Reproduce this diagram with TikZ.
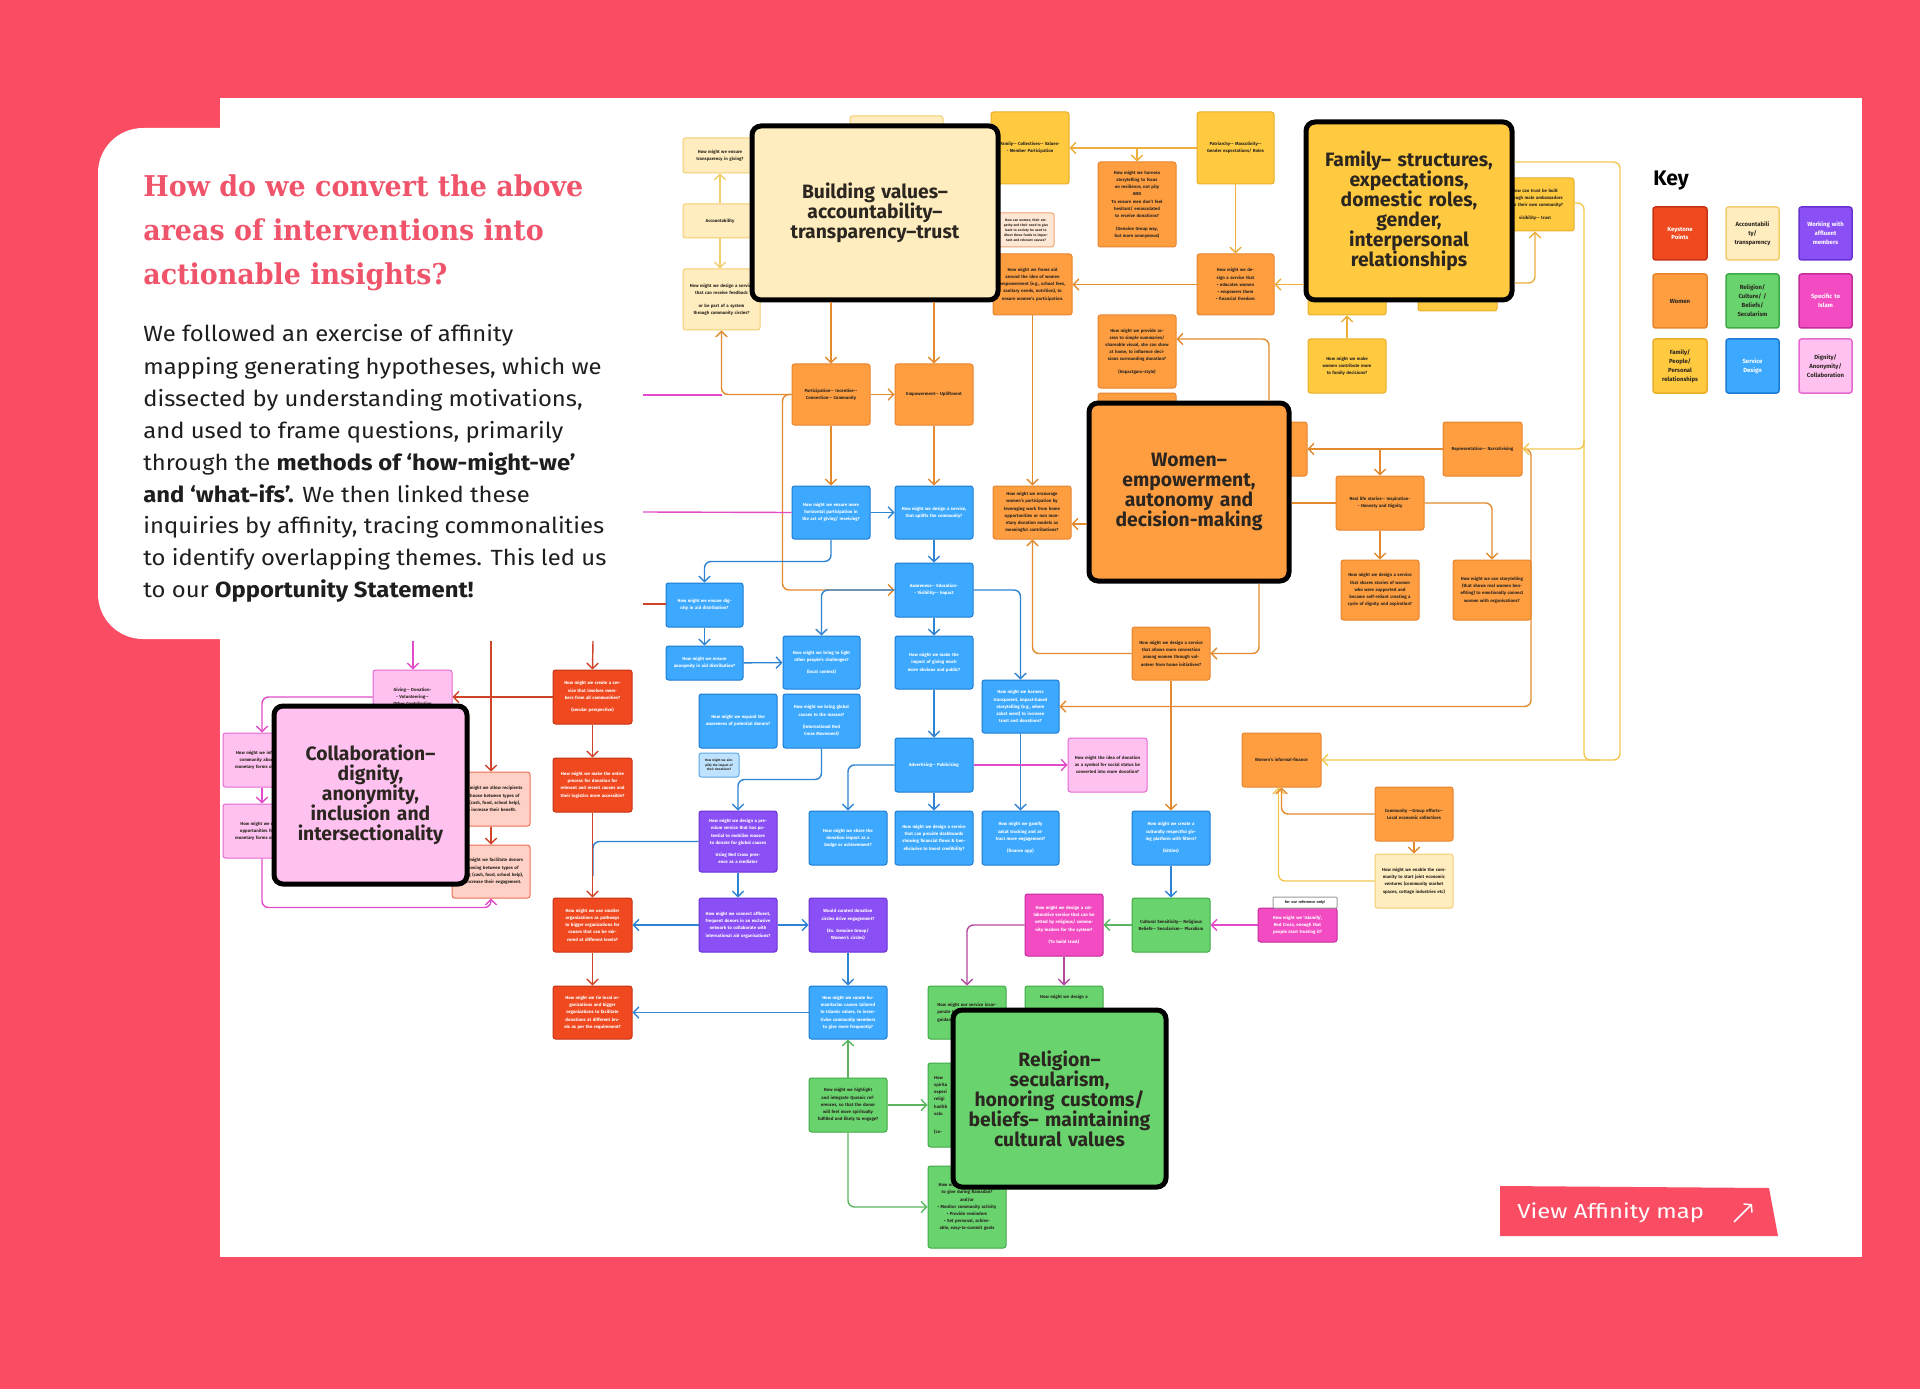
\documentclass[tikz,border=0pt]{standalone}
\usepackage{fontspec}
\usepackage{graphicx}
\setmainfont{Fira Sans}
\newfontfamily\headfont{DejaVu Serif}
\usetikzlibrary{arrows.meta,calc}

\definecolor{bgred}{HTML}{FA4C62}
\definecolor{headc}{HTML}{F0546B}
\definecolor{bodyc}{HTML}{1E1E1E}
\definecolor{creamF}{HTML}{FFEDBF}\definecolor{creamD}{HTML}{F3CD70}
\definecolor{yelF}{HTML}{FFC940}\definecolor{yelD}{HTML}{E9AE2A}
\definecolor{oraF}{HTML}{FF9E41}\definecolor{oraD}{HTML}{E7842E}
\definecolor{redF}{HTML}{F0491F}\definecolor{redD}{HTML}{C43414}
\definecolor{bluF}{HTML}{3CA9FF}\definecolor{bluD}{HTML}{1C7BD2}
\definecolor{lbluF}{HTML}{BFE3FF}\definecolor{lbluD}{HTML}{5AA7E6}
\definecolor{purF}{HTML}{8B4FF6}\definecolor{purD}{HTML}{6831D2}
\definecolor{greF}{HTML}{69D46E}\definecolor{greD}{HTML}{3EA947}
\definecolor{magF}{HTML}{F34CC2}\definecolor{magD}{HTML}{C22C9B}
\definecolor{pinkF}{HTML}{FFC2F0}\definecolor{pinkD}{HTML}{E468CF}
\definecolor{salF}{HTML}{FFD1C6}\definecolor{salD}{HTML}{EE6D55}
\definecolor{peaF}{HTML}{FFE7D6}\definecolor{peaD}{HTML}{F2A46E}
\definecolor{dtext}{HTML}{2B2620}
\definecolor{lOra}{HTML}{E3892E}
\definecolor{lYel}{HTML}{F2C850}
\definecolor{lFam}{HTML}{EDAE3C}
\definecolor{lCre}{HTML}{F2CE6C}
\definecolor{lBlu}{HTML}{2F83D3}
\definecolor{lMag}{HTML}{E24CC8}
\definecolor{lMagD}{HTML}{B4489E}
\definecolor{lRed}{HTML}{CF4428}
\definecolor{lGre}{HTML}{5CB660}

\newcommand\cardfont{\fontsize{2.5}{4.1}\selectfont\bfseries}
\newcommand\bigfont{\fontsize{11}{11.4}\selectfont\bfseries}
\newcommand\keyfont{\fontsize{3.4}{5.1}\selectfont\bfseries}
\newcommand\bodyfont{\fontsize{12.5}{14}\selectfont}
\newcommand\hh{-{}-}
\newcommand\bodytext[1]{\scalebox{1.085}[1]{#1}}
\newcommand\twf{0.84}

\newcommand\mkcard[7]{%
 \pgfmathsetmacro\cdW{(#5-#3)*0.2}%
 \pgfmathsetmacro\cdH{(#6-#4)*0.2}%
 \pgfmathsetmacro\cdT{(#5-#3)*0.2*\twf}%
 \node[#1,minimum width=\cdW mm,minimum height=\cdH mm,text width=\cdT mm] (#2) at ({(#3+#5)/2},{(#4+#6)/2}) {#7};}

\tikzset{
 card/.style={draw, line width=0.2mm, rounded corners=0.5mm, align=center, inner sep=0pt, font=\cardfont},
 cre/.style={card, fill=creamF, draw=creamD, text=dtext},
 yel/.style={card, fill=yelF, draw=yelD, text=dtext},
 ora/.style={card, fill=oraF, draw=oraD, text=dtext},
 redc/.style={card, fill=redF, draw=redD, text=white},
 blu/.style={card, fill=bluF, draw=bluD, text=white},
 lblu/.style={card, fill=lbluF, draw=lbluD, text=dtext},
 pur/.style={card, fill=purF, draw=purD, text=white},
 gre/.style={card, fill=greF, draw=greD, text=dtext},
 mag/.style={card, fill=magF, draw=magD, text=white},
 pnk/.style={card, fill=pinkF, draw=pinkD, text=dtext},
 sal/.style={card, fill=salF, draw=salD, text=dtext},
 pea/.style={card, fill=peaF, draw=peaD, text=dtext},
 big/.style={draw=black, line width=1mm, rounded corners=1.8mm, align=center, inner sep=0pt, font=\bigfont, text=dtext},
 keyc/.style={card, font=\keyfont, line width=0.3mm},
 conn/.style={line width=0.28mm, rounded corners=1.3mm},
 arr/.style={-{Straight Barb[length=1.1mm,width=2.3mm,line width=0.28mm]}},
 bodyline/.style={anchor=base west, inner sep=0pt, text=bodyc, font=\bodyfont},
 headline/.style={anchor=base west, inner sep=0pt, text=headc, font=\headfont\bfseries\fontsize{16.3}{16.3}\selectfont},
}

\begin{document}
\begin{tikzpicture}[x=0.2mm,y=-0.2mm]
\useasboundingbox (0,0) rectangle (1920,1389);
\fill[bgred] (0,0) rectangle (1920,1389);
\fill[white] (220,98) rectangle (1862,1257);
\fill[white, rounded corners=9mm] (98,128) rectangle (320,639);

\coordinate (m1) at (643,395);
\coordinate (m2) at (643,512);
\coordinate (r1) at (643,604);
\coordinate (m3) at (413,641);
\coordinate (r2) at (491,641);
\coordinate (r3) at (593,641);
\coordinate (bstart) at (593,876);

% ---------------- cards ----------------
% cream
\mkcard{cre}{behindtop}{850}{116}{943}{160}{}
\mkcard{cre}{transp}{683}{138}{757}{173}{How might we ensure transparency in giving?}
\mkcard{cre}{account}{683}{204}{757}{238}{Accountability}
\mkcard{cre}{feedback}{683}{269}{760}{330}{How might we design a service that can receive feedback\\[3pt]or be part of a system through community circles?}
\mkcard{cre}{enable}{1375}{854}{1453}{908}{How might we enable the community to start joint economic ventures (community market spaces, cottage industries etc)}
% yellow
\mkcard{yel}{famcoll}{991}{112}{1069}{184}{Family\hh\ Collectives\hh\ Values\hh\ Member Participation}
\mkcard{yel}{patri}{1197}{112}{1274}{184}{Patriarchy\hh\ Masculinity\hh\ Gender expectations/ Roles}
\mkcard{yel}{bfam1}{1308}{255}{1386}{315}{}
\mkcard{yel}{bfam2}{1418}{255}{1497}{311}{}
\mkcard{yel}{contribute}{1308}{339}{1386}{393}{How might we make women contribute more to family decisions?}
\mkcard{yel}{visib}{1496}{178}{1574}{231}{How can trust be built through male ambassadors from their own community?\\[3pt]visibility\hh\ trust}
% peach
\mkcard{pea,font=\fontsize{1.9}{2.9}\selectfont\bfseries}{empathy}{998}{213}{1054}{247}{How can women, their empathy and their need to give back to society be used to direct these funds to important and relevant causes?}
% orange
\mkcard{ora}{frameaid}{993}{254}{1072}{315}{How might we frame aid around the idea of women empowerment (e.g., school fees, sanitary needs, nutrition), to ensure women's participation.}
\mkcard{ora}{participation}{792}{364}{870}{425}{Participation\hh\ Incentive\hh\ Connection\hh\ Community}
\mkcard{ora}{empower}{895}{364}{973}{425}{Empowerment\hh\ Upliftment}
\mkcard{ora}{harnessstory}{1098}{162}{1176}{247}{How might we harness storytelling to focus on resilience, not pity\\AND\\To ensure men don't feel hesitant/ emasculated to receive donations?\\[3pt](Genuine Group way, but more anonymous)}
\mkcard{ora}{educate}{1197}{254}{1274}{315}{How might we design a service that\\ • educates women\\ • empowers them\\ • financial freedom}
\mkcard{ora}{provide}{1098}{315}{1176}{388}{How might we provide access to simple summaries/ shareable visual, she can show at home, to influence decisions surrounding donation?\\[3pt](Impactguru-style)}
\mkcard{ora}{bwomen}{1098}{393}{1176}{440}{}
\mkcard{ora}{bwomenR}{1230}{422}{1307}{476}{}
\mkcard{ora}{encourage}{993}{486}{1071}{539}{How might we encourage women's participation by leveraging work from home opportunities or non monetary donation models as meaningful contributions?}
\mkcard{ora}{represent}{1443}{422}{1522}{476}{Representation\hh\ Narrativising}
\mkcard{ora}{reallife}{1336}{476}{1424}{530}{Real life stories\hh\ Inspiration\hh\ Honesty and Dignity}
\mkcard{ora}{shares}{1341}{560}{1419}{620}{How might we design a service that shares stories of women who were supported and became self-reliant creating a cycle of dignity and aspiration?}
\mkcard{ora}{storytell}{1453}{560}{1531}{620}{How might we use storytelling (that shows real women benefiting) to emotionally connect women with organisations?}
\mkcard{ora}{connection}{1132}{627}{1210}{680}{How might we design a service that allows more connection among women through volunteer from home initiatives?}
\mkcard{ora}{informal}{1242}{733}{1321}{787}{Women's informal-finance}
\mkcard{ora}{community}{1375}{787}{1453}{841}{Community \hh Group efforts\hh\ Local economic collectives}
% blue
\mkcard{blu}{horizontal}{792}{486}{870}{539}{How might we ensure more horizontal participation in the act of giving/ receiving?}
\mkcard{blu}{uplift}{895}{486}{973}{539}{How might we design a service, that uplifts the community?}
\mkcard{blu}{aware}{895}{563}{973}{617}{Awareness\hh\ Education\hh\ Visibility\hh\ Impact}
\mkcard{blu}{dignity}{666}{583}{743}{627}{How might we ensure dignity in aid distribution?}
\mkcard{blu}{anonym}{666}{646}{743}{680}{How might we ensure anonymity in aid distribution?}
\mkcard{blu}{bringlight}{783}{636}{860}{689}{How might we bring to light other people's challenges?\\[3pt](local context)}
\mkcard{blu}{impact}{895}{636}{973}{689}{How might we make the impact of giving much more obvious and public?}
\mkcard{blu}{harness}{982}{680}{1059}{733}{How might we harness transparent, impact-based storytelling (e.g., where zakat went) to increase trust and donations?}
\mkcard{blu}{expand}{699}{694}{777}{748}{How might we expand the awareness of potential donors?}
\mkcard{blu}{global}{783}{694}{860}{748}{How might we bring global causes to the masses?\\[3pt](International Red Cross Movement)}
\mkcard{lblu,font=\fontsize{1.8}{2.6}\selectfont\bfseries}{simplify}{699}{753}{739}{777}{How might we simplify the impact of their donations?}
\mkcard{blu}{advert}{895}{738}{973}{792}{Advertising\hh\ Publicising}
\mkcard{blu}{badge}{809}{811}{887}{865}{How might we share the donation impact as a badge or achievement?}
\mkcard{blu}{dashboards}{895}{811}{973}{865}{How might we design a service that can provide dashboards showing financial flows \& beneficiaries to boost credibility?}
\mkcard{blu}{gamify}{982}{811}{1059}{865}{How might we gamify zakat tracking and attract more engagement?\\[3pt](finance app)}
\mkcard{blu}{culturally}{1132}{811}{1210}{865}{How might we create a culturally respectful giving platform with filters?\\[3pt](kitties)}
\mkcard{blu}{curate}{809}{986}{887}{1039}{How might we curate humanitarian causes tailored to Islamic values, to incentivise community members to give more frequently?}
% purple
\mkcard{pur}{premium}{699}{811}{777}{872}{How might we design a premium service that has potential to mobilise masses to donate for global causes\\[3pt]Using Red Cross presence as a mediator}
\mkcard{pur}{connect}{699}{898}{777}{952}{How might we connect affluent, frequent donors in an exclusive network to collaborate with international aid organisations?}
\mkcard{pur}{curated}{809}{898}{887}{952}{Would curated donation circles drive engagement?\\[3pt](Ex. Genuine Group/ Women's circles)}
% magenta
\mkcard{mag}{collabserv}{1025}{894}{1103}{956}{How might we design a collaborative service that can be vetted by religious/ community leaders for the system?\\[3pt](To build trust)}
\mkcard{mag}{islamify}{1258}{908}{1337}{942}{How might we `Islamify', Red Cross, enough that people start trusting it?}
\mkcard{card,fill=white,draw=gray!80,text=dtext,rounded corners=0.2mm,font=\fontsize{2.2}{2.6}\selectfont\bfseries}{note}{1273}{897}{1337}{908}{for our reference only!}
% light pink
\mkcard{pnk}{social}{1068}{738}{1147}{792}{How might the idea of donation as a symbol for social status be converted into more donation?}
\mkcard{pnk}{giving}{373}{670}{452}{724}{Giving\hh\ Donation\hh\ Volunteering\hh\ Other Contribution}
\mkcard{pnk}{inform}{223}{733}{301}{787}{How might we inform the\\community about non\\monetary forms of giving?}
\mkcard{pnk}{createopp}{223}{804}{301}{858}{How might we create\\opportunities for non\\monetary forms of giving?}
% salmon
\mkcard{sal}{allow}{452}{772}{530}{826}{How might we allow recipients to choose between types of aid (cash, food, school help), to increase their benefit.}
\mkcard{sal}{facilitate}{452}{845}{530}{898}{How might we facilitate donors choosing between types of giving (cash, food, school help), to increase their engagement.}
% red
\mkcard{redc}{create}{553}{670}{632}{724}{How might we create a service that involves members from all communities?\\[3pt](secular perspective)}
\mkcard{redc}{make}{553}{758}{632}{812}{How might we make the entire process for donation for relevant and recent causes and their logistics more accessible?}
\mkcard{redc}{smaller}{553}{898}{632}{952}{How might we use smaller organizations as pathways to bigger organizations for causes that can be mirrored at different levels?}
\mkcard{redc}{tie}{553}{986}{632}{1039}{How might we tie local organizations and bigger organizations to facilitate donations at different levels as per the requirement?}
% green
\mkcard{gre}{cultural}{1132}{898}{1210}{952}{Cultural Sensitivity\hh\ Religious Beliefs\hh\ Secularism\hh\ Pluralism}
\mkcard{gre}{highlight}{809}{1078}{887}{1132}{How might we highlight and integrate Quranic references, so that the donor will feel more spiritually fulfilled and likely to engage?}
\mkcard{gre}{gtop1}{928}{986}{1006}{1039}{How might our service incorporate Islamic finance expert guidance for the community?}
\mkcard{gre}{gtop2}{1025}{986}{1103}{1039}{How might we design a\\[14pt]\mbox{}}
\mkcard{gre,align=left}{gmid}{928}{1063}{1006}{1147}{How\\spiritu\\experi\\religi\\hadith\\valu\\[6pt](co-}
\mkcard{gre}{gbot}{928}{1166}{1006}{1248}{How might we enable users to give during Ramadan?\\and/or\\• Monitor community activity\\• Provide reminders\\• Set personal, achievable, easy-to-commit goals}

% ---------------- big boxes ----------------
\renewcommand\twf{0.98}
\mkcard{big,fill=creamF}{building}{752}{126}{998}{300}{Building values–\\accountability–\\transparency–trust}
\mkcard{big,fill=yelF}{family}{1306}{122}{1512}{300}{Family– structures,\\expectations,\\domestic roles,\\gender,\\interpersonal\\relationships}
\mkcard{big,fill=oraF}{women}{1089}{403}{1289}{581}{Women–\\empowerment,\\autonomy and\\decision-making}
\mkcard{big,fill=pinkF}{collab}{274}{706}{467}{884}{Collaboration–\\dignity,\\anonymity,\\inclusion and\\intersectionality}
\mkcard{big,fill=greF}{religion}{953}{1010}{1166}{1187}{Religion–\\secularism,\\honoring customs/\\beliefs– maintaining\\cultural values}
\renewcommand\twf{0.84}

% ---------------- connectors ----------------
\begin{scope}[conn, draw=lOra]
\draw[arr] (building.south -| participation.north) -- (participation.north);
\draw[arr] (building.south -| empower.north) -- (empower.north);
\draw[arr] (participation) -- (empower);
\draw[arr] (participation.west) -| (feedback.south);
\draw[arr] (participation.west) -- ++(-9,0) |- (aware.west);
\draw[arr] (participation) -- (horizontal);
\draw[arr] (empower) -- (uplift);
\draw[arr] (frameaid.south) -- (frameaid.south |- encourage.north);
\draw[arr] (women.west |- 0,524) -- (encourage.east |- 0,524);
\draw[arr] (connection.west) -| (frameaid.south |- encourage.south);
\draw[arr] (1259,0 |- women.south) |- (connection.east);
\draw[arr] (1269,0 |- women.north) |- (provide.east |- 0,339);
\draw[arr] (educate) -- (frameaid);
\draw[arr] (represent) -- (bwomenR);
\draw[arr] (reallife.north |- represent.west) -- (reallife.north);
\draw (women.east |- reallife.west) -- (reallife.west);
\draw[arr] (reallife) -- (shares);
\draw[arr] (reallife.east) -| (storytell.north);
\draw[arr] (represent.east) -- (1531,449) |- (harness.east);
\draw[arr] (connection.south -| culturally.north) -- (culturally.north);
\draw[arr] (community) -- (enable);
\end{scope}
\begin{scope}[conn, draw=lYel]
\draw[arr] (enable.west) -| ([xshift=-0.6mm]informal.south);
\draw[arr] (family.east |- 0,162) -- (1620,162) -- (1620,760) -- (informal.east);
\draw[arr] (visib.east |- 0,203) -| (1584,449) -- (represent.east);
\draw (1584,440) -- (1584,760) -- (1600,760);
\end{scope}
\begin{scope}[conn, draw=lOra]
\draw[arr] (community.west) -| (informal.south);
\end{scope}
\begin{scope}[conn, draw=lFam]
\draw[arr] (patri) -- (famcoll);
\draw[arr] (harnessstory.north |- patri.west) -- (harnessstory.north);
\draw[arr] (patri) -- (educate);
\draw[arr] (family.west |- educate.east) -- (educate.east);
\draw[arr] (contribute) -- (bfam1);
\draw[arr] (family.east |- 0,283) -| (visib.south);
\end{scope}
\begin{scope}[conn, draw=lCre]
\draw[arr] (account) -- (transp);
\draw[arr] (account.south) -- (account.south |- feedback.north);
\end{scope}
\begin{scope}[conn, draw=lBlu]
\draw[arr] (horizontal) -- (uplift);
\draw[arr] (horizontal.south) -- ++(0,22) -| (dignity.north);
\draw[arr] (uplift) -- (aware);
\draw[arr] (aware.west) -| (bringlight.north);
\draw[arr] (aware) -- (impact);
\draw[arr] (aware.east) -| (harness.north);
\draw[arr] (dignity) -- (anonym);
\draw[arr] (anonym) -- (bringlight);
\draw[arr] (impact) -- (advert);
\draw[arr] (global.south) -- ++(0,31) -| (premium.north);
\draw[arr] (advert.west) -| (badge.north);
\draw[arr] (advert) -- (dashboards);
\draw[arr] (harness) -- (gamify);
\draw[arr] (premium) -- (connect);
\draw (bstart) |- (premium.west);
\draw[arr] (connect) -- (smaller);
\draw[arr] (connect) -- (curated);
\draw[arr] (curated) -- (curate);
\draw[arr] (curate) -- (tie);
\draw[arr] (culturally) -- (cultural);
\end{scope}
\begin{scope}[conn, draw=lMag]
\draw (m1) -- (feedback.south |- m1);
\draw (m2) -- (horizontal.west);
\draw[arr] (advert) -- (social);
\draw[arr] (m3) -- (m3 |- giving.north);
\draw[arr] (giving.west) -| (inform.north);
\draw[arr] (inform) -- (createopp);
\draw[arr] (createopp.south) -- ++(0,49) -| (facilitate.south);
\draw[arr] (islamify) -- (cultural);
\end{scope}
\begin{scope}[conn, draw=lMagD]
\draw[arr] (collabserv.west) -| (gtop1.north);
\draw[arr] (collabserv) -- (gtop2);
\end{scope}
\begin{scope}[conn, draw=lGre]
\draw[arr] (cultural) -- (collabserv);
\draw[arr] (highlight) -- (curate);
\draw[arr] (highlight) -- (gmid);
\draw[arr] (highlight.south) |- (gbot.west);
\end{scope}
\begin{scope}[conn, draw=lRed]
\draw (r1) -- (dignity.west |- r1);
\draw[arr] (r2) -- (r2 |- allow.north);
\draw[arr] (r3) -- (create.north);
\draw[arr] (create) -- (giving);
\draw[arr] (create) -- (make);
\draw[arr] (make) -- (smaller);
\draw[arr] (smaller) -- (tie);
\draw[arr] (allow) -- (facilitate);
\end{scope}

% ---------------- key ----------------
\node[anchor=base west, inner sep=0pt, font=\fontsize{12}{12}\selectfont\bfseries, text=black] (keyt) at (1653,186) {Key};
\mkcard{keyc,fill=redF,draw=redD,text=white}{k1}{1653}{207}{1707}{260}{Keystone\\Points}
\mkcard{keyc,fill=creamF,draw=creamD,text=dtext}{k2}{1726}{207}{1779}{260}{Accountabili\\ty/\\transparency}
\mkcard{keyc,fill=purF,draw=purD,text=white}{k3}{1799}{207}{1852}{260}{Working with\\affluent\\members}
\mkcard{keyc,fill=oraF,draw=oraD,text=dtext}{k4}{1653}{274}{1707}{328}{Women}
\mkcard{keyc,fill=greF,draw=greD,text=dtext}{k5}{1726}{274}{1779}{328}{Religion/\\Culture/ /\\Beliefs/\\Secularism}
\mkcard{keyc,fill=magF,draw=magD,text=white}{k6}{1799}{274}{1852}{328}{Specific to\\Islam}
\mkcard{keyc,fill=yelF,draw=yelD,text=dtext}{k7}{1653}{339}{1707}{393}{Family/\\People/\\Personal\\relationships}
\mkcard{keyc,fill=bluF,draw=bluD,text=white}{k8}{1726}{339}{1779}{393}{Service\\Design}
\mkcard{keyc,fill=pinkF,draw=pinkD,text=dtext}{k9}{1799}{339}{1852}{393}{Dignity/\\Anonymity/\\Collaboration}

% ---------------- button ----------------
\fill[bgred] (1500,1186) -- (1769,1188) -- (1778,1236) -- (1500,1236) -- cycle;
\node[anchor=base west, inner sep=0pt, text=white, font=\fontsize{11.5}{12}\selectfont] (btn) at (1517,1218) {\scalebox{1.18}[1]{View Affinity map}};
\draw[white, line width=0.3mm, -{Straight Barb[length=1mm,width=2.4mm,line width=0.3mm]}] (1734,1222) -- (1752,1204);

% ---------------- text panel ----------------
\node[headline] (h1) at (143,197) {\scalebox{0.94}[1]{How do we convert the above}};
\node[headline] (h2) at (143,241) {\scalebox{0.94}[1]{areas of interventions into}};
\node[headline] (h3) at (143,285) {\scalebox{0.94}[1]{actionable insights?}};
\node[bodyline] (b1) at (143,342) {\bodytext{We followed an exercise of affinity}};
\node[bodyline] (b2) at (143,374) {\bodytext{mapping generating hypotheses, which we}};
\node[bodyline] (b3) at (143,406) {\bodytext{dissected by understanding motivations,}};
\node[bodyline] (b4) at (143,438) {\bodytext{and used to frame questions, primarily}};
\node[bodyline] (b5) at (143,470) {\bodytext{through the \textbf{methods of `how-might-we'}}};
\node[bodyline] (b6) at (143,502) {\bodytext{\textbf{and `what-ifs'.} We then linked these}};
\node[bodyline] (b7) at (143,533) {\bodytext{inquiries by affinity, tracing commonalities}};
\node[bodyline] (b8) at (143,565) {\bodytext{to identify overlapping themes. This led us}};
\node[bodyline] (b9) at (143,597) {\bodytext{to our \textbf{Opportunity Statement!}}};
\end{tikzpicture}
\end{document}
